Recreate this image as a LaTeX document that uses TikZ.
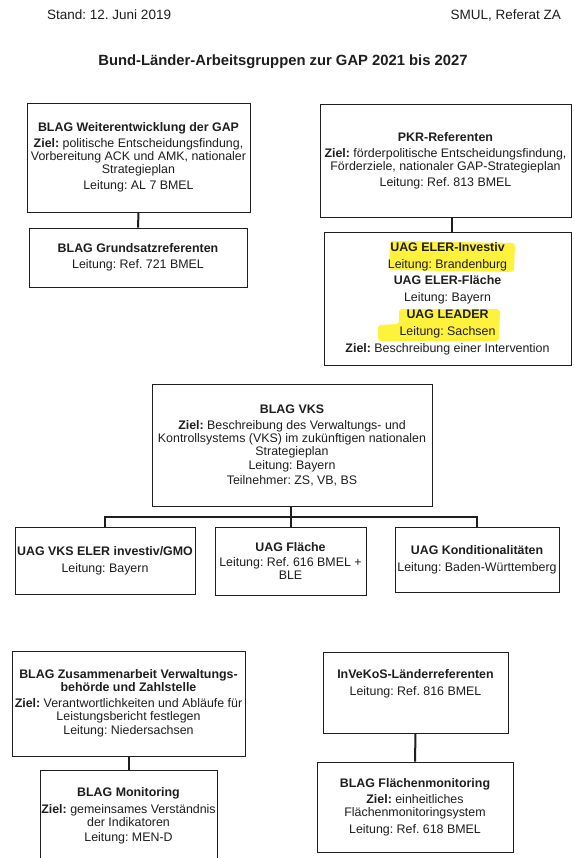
\documentclass[tikz,border=0pt]{standalone}
\usepackage{fontspec}
\setmainfont{Liberation Sans}
\usetikzlibrary{positioning}
\definecolor{ink}{RGB}{30,30,30}
\definecolor{hl}{RGB}{255,242,60}
\newcommand\boxfont{\fontsize{12.4}{12.8}\selectfont}
\frenchspacing
\begin{document}
\begin{tikzpicture}[x=1pt,y=-1pt,
  box/.style={draw=ink, line width=0.9pt, align=center, inner sep=1pt, font=\boxfont, text=ink},
  conn/.style={draw=ink, line width=2pt},
  hdr/.style={font=\fontsize{13.5}{15}\selectfont, text=ink, inner sep=0pt}]
\path[use as bounding box] (0,0) rectangle (573,858);
\fill[white] (0,0) rectangle (573,858);
\begin{scope}
\clip (0,0) rectangle (573,858);
% header
\node[hdr, anchor=west] (stand) at (47,15) {Stand: 12. Juni 2019};
\node[hdr, anchor=east] (smul) at (561,15) {SMUL, Referat ZA};
\node[font=\fontsize{14.8}{16}\selectfont\bfseries, text=ink, inner sep=0pt] (title) at (283,62) {Bund-Länder-Arbeitsgruppen zur GAP 2021 bis 2027};
% highlights
\fill[hl, rounded corners=3pt] (390,241) -- (515,243) -- (514,272) -- (389,270) -- cycle;
\fill[hl, rounded corners=3pt] (399,309) -- (500,309) -- (499,341) -- (378,341) -- (378,325) -- (399,324) -- cycle;
% top left
\node[box, minimum width=223, minimum height=109] (A) at (138.5,157.5)
 {\textbf{BLAG Weiterentwicklung der GAP}\\[3pt]\textbf{Ziel:} politische Entscheidungsfindung,\\Vorbereitung ACK und AMK, nationaler\\Strategieplan\\[4pt]Leitung: AL 7 BMEL};
\node[box, minimum width=218, minimum height=59] (B) at (138,257.5)
 {\textbf{BLAG Grundsatzreferenten}\\[3pt]Leitung: Ref. 721 BMEL};
\draw[conn] (A.south) -- (B.north);
% top right
\node[box, minimum width=251, minimum height=113] (C) at (445.5,160.5)
 {\textbf{PKR-Referenten}\\[4pt]\textbf{Ziel:} förderpolitische Entscheidungsfindung,\\Förderziele, nationaler GAP-Strategieplan\\[3pt]Leitung: Ref. 813 BMEL};
\node[box, minimum width=247, minimum height=133] (D) at (447.5,298.5)
 {\textbf{UAG ELER-Investiv}\\[4pt]Leitung: Brandenburg\\[4pt]\textbf{UAG ELER-Fläche}\\[4pt]Leitung: Bayern\\[4pt]\textbf{UAG LEADER}\\[4pt]Leitung: Sachsen\\[4pt]\textbf{Ziel:} Beschreibung einer Intervention};
\draw[conn] ([xshift=6pt]C.south) -- ([xshift=6pt]C.south |- D.north);
% VKS
\node[box, minimum width=280, minimum height=122] (E) at (292,445)
 {\textbf{BLAG VKS}\\[4pt]\textbf{Ziel:} Beschreibung des Verwaltungs- und\\Kontrollsystems (VKS) im zukünftigen nationalen\\Strategieplan\\[1.5pt]Leitung: Bayern\\[1.5pt]Teilnehmer: ZS, VB, BS};
\node[box, minimum width=180, minimum height=67] (F1) at (105,560.5)
 {\textbf{UAG VKS ELER investiv/GMO}\\[4pt]Leitung: Bayern};
\node[box, minimum width=151, minimum height=68] (F2) at (290.5,561)
 {\textbf{UAG Fläche}\\[3pt]Leitung: Ref. 616 BMEL +\\BLE};
\node[box, minimum width=164, minimum height=65] (F3) at (477,559.5)
 {\textbf{UAG Konditionalitäten}\\[4pt]Leitung: Baden-Württemberg};
\coordinate (barL) at (105,517);
\coordinate (barR) at (477,517);
\draw[conn] (F1.north) -- (barL) -- (barR) -- (F3.north);
\draw[conn] ([xshift=-1.5pt]E.south) -- ([xshift=-1.5pt]E.south |- F2.north);
% bottom left
\node[box, minimum width=233, minimum height=105] (G) at (128.5,703.5)
 {\textbf{BLAG Zusammenarbeit Verwaltungs-}\\\textbf{behörde und Zahlstelle}\\[3pt]\textbf{Ziel:} Verantwortlichkeiten und Abläufe für\\Leistungsbericht festlegen\\[2pt]Leitung: Niedersachsen};
\node[box, minimum width=177, minimum height=92] (H) at (128.5,816)
 {\textbf{BLAG Monitoring}\\[4pt]\textbf{Ziel:} gemeinsames Verständnis\\der Indikatoren\\[3pt]Leitung: MEN-D};
\draw[conn] (G.south) -- (H.north);
% bottom right
\node[box, minimum width=185, minimum height=81] (I) at (415.5,692.5) {};
\node[font=\boxfont, text=ink, align=center, inner sep=0pt] (Itext) at ([yshift=9pt]I.center)
 {\textbf{InVeKoS-Länderreferenten}\\[4pt]Leitung: Ref. 816 BMEL};
\node[box, minimum width=196, minimum height=90] (J) at (415,807)
 {\textbf{BLAG Flächenmonitoring}\\[4pt]\textbf{Ziel:} einheitliches\\Flächenmonitoringsystem\\[4pt]Leitung: Ref. 618 BMEL};
\draw[conn] (I.south) -- (J.north);
\end{scope}
\end{tikzpicture}
\end{document}
